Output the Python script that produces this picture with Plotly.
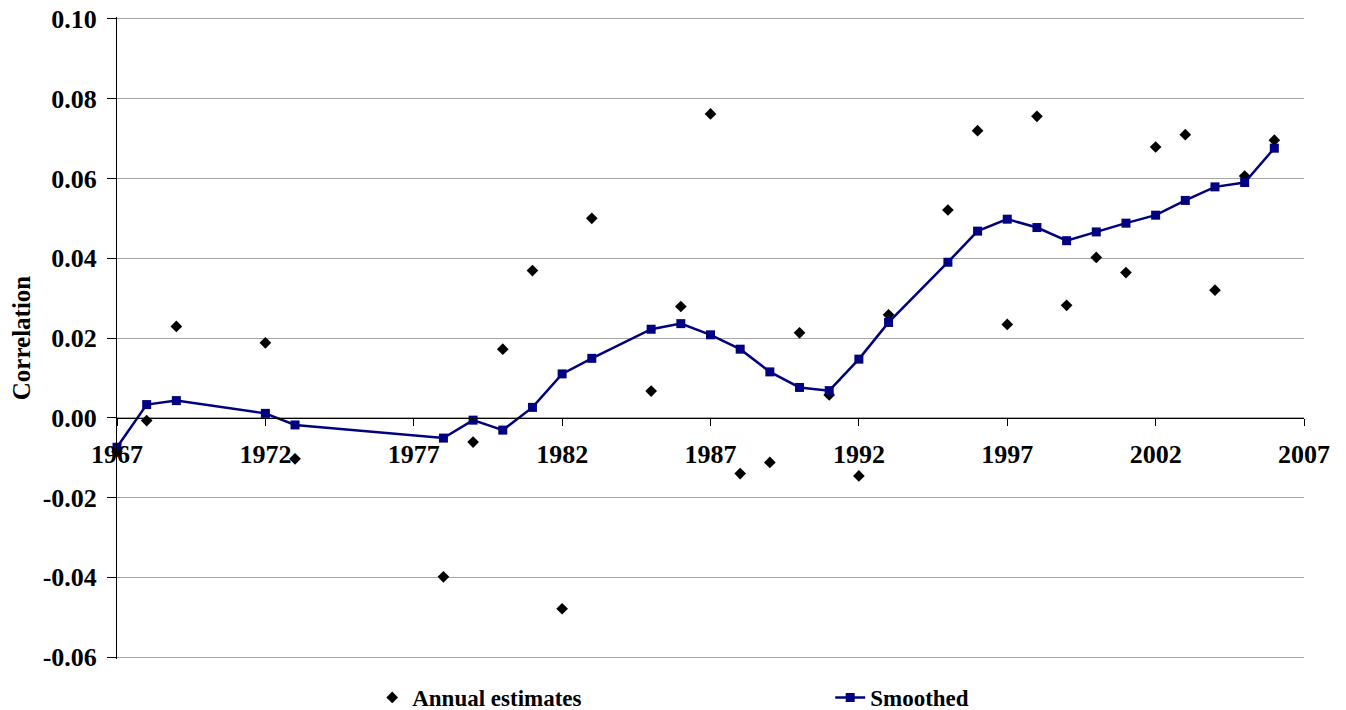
import plotly.graph_objects as go

# Annual estimates
annual_years = [1967, 1968, 1969, 1972, 1973, 1978, 1979, 1980, 1981, 1982, 1983,
                1985, 1986, 1987, 1988, 1989, 1990, 1991, 1992, 1993, 1995, 1996,
                1997, 1998, 1999, 2000, 2001, 2002, 2003, 2004, 2005, 2006]
annual_values = [-0.0085, -0.0007, 0.0229, 0.0188, -0.0103, -0.0399, -0.0061, 0.0172,
                 0.0369, -0.0479, 0.0500, 0.0067, 0.0279, 0.0762, -0.0140, -0.0112,
                 0.0213, 0.0057, -0.0146, 0.0258, 0.0521, 0.0720, 0.0234, 0.0756,
                 0.0282, 0.0402, 0.0364, 0.0679, 0.0710, 0.0320, 0.0606, 0.0696]

# Smoothed series
smooth_years = annual_years
smooth_values = [-0.0074, 0.0033, 0.0043, 0.0011, -0.0018, -0.0051, -0.0006, -0.0031,
                 0.0026, 0.0110, 0.0149, 0.0222, 0.0236, 0.0208, 0.0172, 0.0115,
                 0.0076, 0.0068, 0.0147, 0.0239, 0.0390, 0.0468, 0.0498, 0.0477,
                 0.0444, 0.0466, 0.0488, 0.0508, 0.0545, 0.0579, 0.0590, 0.0676]

x_ticks = [1967, 1972, 1977, 1982, 1987, 1992, 1997, 2002, 2007]
y_ticks = [-0.06, -0.04, -0.02, 0.00, 0.02, 0.04, 0.06, 0.08, 0.10]

FONT = "Liberation Serif"

# small padding so the edge gridlines (0.10 and -0.06) are drawn
y_lo, y_hi = -0.0605, 0.1005
zero_pos = (0 - y_lo) / (y_hi - y_lo)

fig = go.Figure()
fig.add_trace(go.Scatter(
    x=annual_years, y=annual_values, mode="markers", name="Annual estimates",
    marker=dict(symbol="diamond", size=9, color="black"),
    cliponaxis=False,
))
fig.add_trace(go.Scatter(
    x=smooth_years, y=smooth_values, mode="lines+markers", name="Smoothed",
    line=dict(color="#000080", width=2.5),
    marker=dict(symbol="square", size=9, color="#000080"),
    cliponaxis=False,
))

fig.update_layout(
    width=1346, height=710,
    margin=dict(l=109, r=50, t=9, b=59, autoexpand=False),
    paper_bgcolor="white", plot_bgcolor="white",
    font=dict(family=FONT, size=26, color="black"),
    showlegend=True,
    legend=dict(orientation="h", x=0.215, xanchor="left", y=-0.06, yanchor="middle",
                font=dict(family=FONT, size=23, color="black", weight="bold"),
                entrywidth=413, bgcolor="rgba(0,0,0,0)"),
    xaxis=dict(
        range=[1967, 2007], tickvals=x_ticks, ticktext=[str(t) for t in x_ticks],
        anchor="free", position=zero_pos, automargin=False,
        showline=True, linecolor="black", linewidth=1,
        ticks="outside", ticklen=7, tickcolor="black", tickwidth=1,
        ticklabelstandoff=6, ticklabeloverflow="allow",
        showgrid=False, zeroline=False,
        tickfont=dict(family=FONT, size=26, color="black", weight="bold"),
    ),
    yaxis=dict(
        range=[y_lo, y_hi], tickvals=y_ticks, automargin=False,
        ticktext=[f"{v:.2f}" for v in y_ticks],
        showline=True, linecolor="black", linewidth=1,
        ticks="outside", ticklen=9, tickcolor="black",
        ticklabelstandoff=5, ticklabeloverflow="allow",
        showgrid=True, gridcolor="#a6a6a6", gridwidth=1,
        zeroline=False,
        tickfont=dict(family=FONT, size=26, color="black", weight="bold"),
        title=dict(text="Correlation", standoff=19,
                   font=dict(family=FONT, size=25, color="black", weight="bold")),
    ),
)

fig.write_html("out.html")
